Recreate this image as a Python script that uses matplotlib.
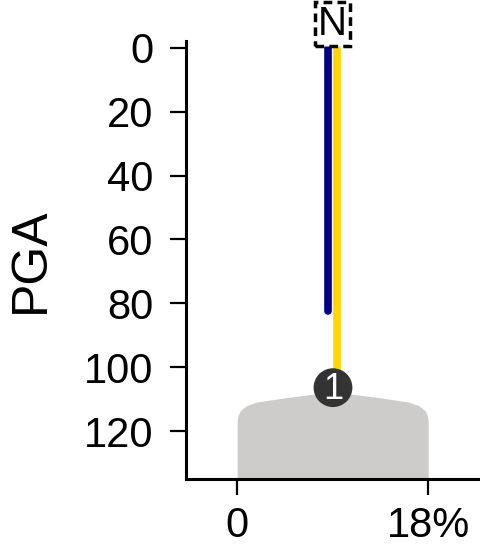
import matplotlib
matplotlib.use("Agg")
import matplotlib.pyplot as plt
import numpy as np

# data
line_names = ["navy", "gold"]
line_x = [8.6, 9.45]            # percent
line_top = [0, 0]
line_bottom = [82.4, 104]
line_colors = ["#000080", "#FFD700"]

shape_x = [0, 0, 0.1, 0.3, 0.9, 1.85, 4.66, 9.0, 13.34, 16.15, 17.1, 17.7, 17.9, 18, 18]
shape_top = [135, 117, 115, 113.6, 112, 110.9, 109.5, 107.7, 109.5, 110.9, 112, 113.6, 115, 117, 135]
shape_bottom = 135

marker_x = 9.03
marker_y = 106.4
marker_label = "1"

north_x = 9.0
north_y = -7.5
north_label = "N"

yticks = [0, 20, 40, 60, 80, 100, 120]
xticks = [0, 18]
xticklabels = ["0", "18%"]

plt.rcParams['font.family'] = ['Liberation Sans', 'DejaVu Sans']

fig = plt.figure(figsize=(4.81, 5.49), dpi=100)
ax = fig.add_axes([0.387, 0.1275, 0.607, 0.797])

ax.fill_between(shape_x, shape_top, shape_bottom, color="#cdcccb", lw=0, zorder=1)

for x, t, b, c in zip(line_x, line_top, line_bottom, line_colors):
    ax.plot([x, x], [t, b], color=c, lw=5.5, solid_capstyle="round", zorder=2)

ax.scatter([marker_x], [marker_y], s=780, color="#333333", zorder=4, edgecolors="none")
ax.text(marker_x, marker_y + 0.5, marker_label, color="white", fontsize=26, ha="center", va="center", zorder=5)

ax.text(north_x, north_y, north_label, fontsize=29, ha="center", va="center", zorder=5,
        bbox=dict(boxstyle="square,pad=0.08", fc="white", ec="black", ls=(0, (2.5, 1.5)), lw=2.5),
        clip_on=False)

ax.set_xlim(-4.8, 22.7)
ax.set_ylim(135, -2)
ax.set_yticks(yticks)
ax.set_xticks(xticks)
ax.set_xticklabels(xticklabels)
ax.tick_params(labelsize=30, width=1.6, length=11.5, color="black")
ax.tick_params(axis="y", pad=12)
ax.tick_params(axis="x", pad=8)
ax.set_ylabel("PGA", fontsize=36, labelpad=22)
for s in ["top", "right"]:
    ax.spines[s].set_visible(False)
for s in ["left", "bottom"]:
    ax.spines[s].set_linewidth(2.2)

fig.savefig("out.png", dpi=100)
